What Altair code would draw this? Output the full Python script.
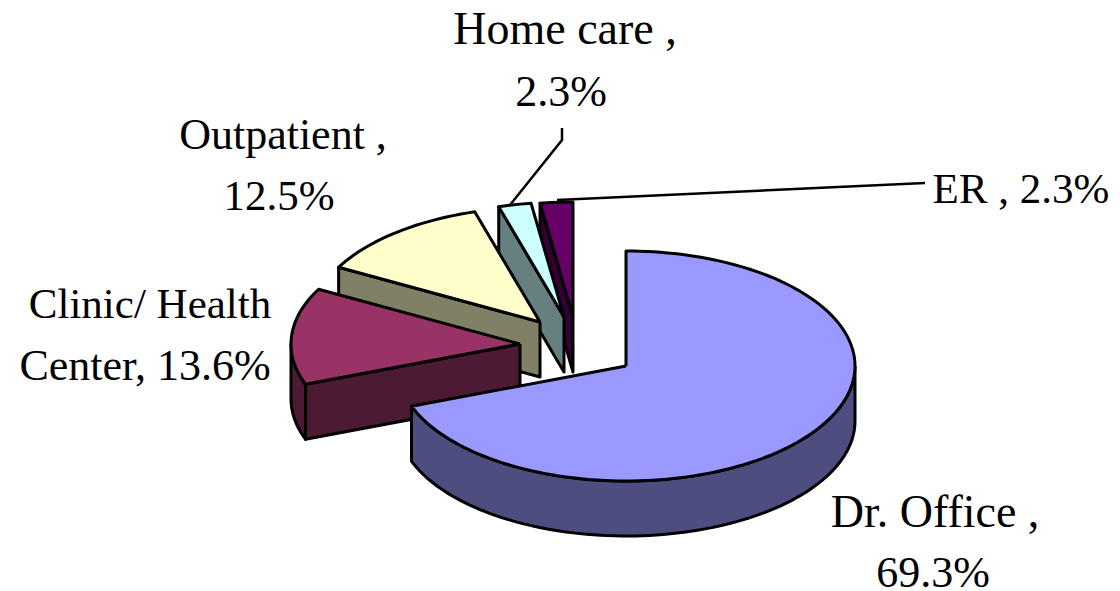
import numpy as np
import pandas as pd
import altair as alt

categories = ["Dr. Office", "Clinic/ Health Center", "Outpatient", "Home care", "ER"]
shares = [69.3, 13.6, 12.5, 2.3, 2.3]
top_colors = ["#9999FF", "#993366", "#FFFFCC", "#CCFFFF", "#660066"]
side_colors = ["#4D4D80", "#4D1A33", "#808066", "#668080", "#330033"]
apex_x = [626, 520, 540, 564, 573]
apex_y = [366, 344, 322, 317, 317]

RX, RY, DEPTH = 229, 115, 55
W, H = 1104, 583
xs = alt.Scale(domain=[8, 8 + W], range=[0, W])
ys = alt.Scale(domain=[8, 8 + H], range=[0, H])

total = sum(shares)
angles = np.concatenate([[0], np.cumsum(shares) / total * 2 * np.pi])

def rim(i, t0, t1, dy=0):
    t = np.linspace(t0, t1, max(2, int(abs(t1 - t0) / 0.03)))
    return list(zip(apex_x[i] + RX * np.sin(t), apex_y[i] - RY * np.cos(t) + dy))

def poly(pts, fill):
    pts = list(pts) + [pts[0]]
    df = pd.DataFrame(pts, columns=["x", "y"])
    df["o"] = range(len(df))
    return alt.Chart(df).mark_line(filled=True, fill=fill, stroke="black", strokeWidth=3, strokeJoin="round").encode(
        x=alt.X("x:Q", scale=xs, axis=None), y=alt.Y("y:Q", scale=ys, axis=None), order="o:Q")

layers = []
for i in [4, 3, 2, 1, 0]:
    t0, t1 = angles[i], angles[i + 1]
    ax, ay = apex_x[i], apex_y[i]
    if i == 0:
        layers.append(poly(rim(i, np.pi / 2, t1) + rim(i, t1, np.pi / 2, DEPTH), side_colors[i]))
    else:
        if i == 1:
            layers.append(poly(rim(i, t0, 1.5 * np.pi) + rim(i, 1.5 * np.pi, t0, DEPTH), side_colors[i]))
        p0 = rim(i, t0, t0)[0]
        layers.append(poly([(ax, ay), p0, (p0[0], p0[1] + DEPTH), (ax, ay + DEPTH)], side_colors[i]))
    layers.append(poly([(ax, ay)] + rim(i, t0, t1), top_colors[i]))

label_text = ["Home care ,", "2.3%", "Outpatient ,", "12.5%", "ER , 2.3%", "Clinic/ Health", "Center, 13.6%", "Dr. Office ,", "69.3%"]
label_x = [565, 561, 283, 279, 1021, 150, 145, 935, 933]
label_y = [30, 93, 136, 197, 190, 305, 367, 513, 574]
label_size = [46, 44, 44, 43, 43, 43, 44, 46, 44]
labels = alt.Chart(pd.DataFrame({"x": label_x, "y": label_y, "t": label_text, "s": label_size})).mark_text(
    font="Liberation Serif", color="black", align="center", baseline="middle"
).encode(x=alt.X("x:Q", scale=xs, axis=None), y=alt.Y("y:Q", scale=ys, axis=None), text="t:N",
         size=alt.Size("s:Q", scale=None, legend=None))

leader_x = [562, 562, 510]
leader_y = [128, 140, 205]
er_x = [925, 557]
er_y = [183, 200]
def leader(lx, ly):
    df = pd.DataFrame({"x": lx, "y": ly, "o": range(len(lx))})
    return alt.Chart(df).mark_line(color="black", strokeWidth=2.5).encode(
        x=alt.X("x:Q", scale=xs, axis=None), y=alt.Y("y:Q", scale=ys, axis=None), order="o:Q")

chart = alt.layer(*layers, leader(leader_x, leader_y), leader(er_x, er_y), labels).properties(
    width=W, height=H, padding=0, autosize=alt.AutoSizeParams(type="none")
).configure_view(stroke=None)
chart.save("out.html", embed_options={"renderer": "svg", "actions": False})
